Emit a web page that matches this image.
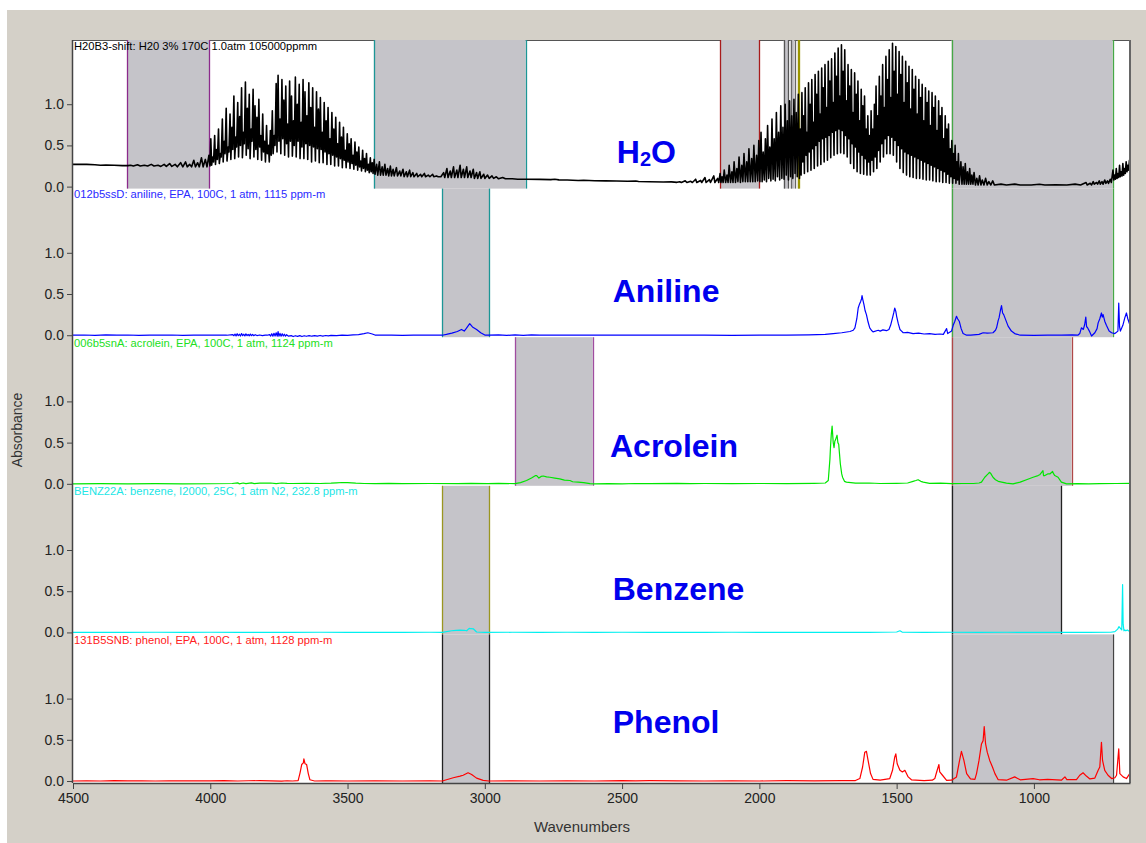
<!DOCTYPE html>
<html>
<head>
<meta charset="utf-8">
<script src="https://cdn.jsdelivr.net/npm/d3@7"></script>
<style>
  body { margin: 0; background: #fff; }
  svg { display: block; font-family: 'Liberation Sans', Arial, sans-serif; }
</style>
</head>
<body>
<div id="chart-1"></div>
<script>
// ---- data ----
var wavenumberTicks = [4500, 4000, 3500, 3000, 2500, 2000, 1500, 1000]
var absorbanceTicks = [0, 0.5, 1.0]

var compounds = ['H2O', 'Aniline', 'Acrolein', 'Benzene', 'Phenol']
var sampleNotes = [
  'H20B3-shift: H20 3% 170C 1.0atm 105000ppmm',
  '012b5ssD: aniline, EPA, 100C, 1 atm, 1115 ppm-m',
  '006b5snA: acrolein, EPA, 100C, 1 atm, 1124 ppm-m',
  'BENZ22A: benzene, I2000, 25C, 1 atm N2, 232.8 ppm-m',
  '131B5SNB: phenol, EPA, 100C, 1 atm, 1128 ppm-m'
]

// analysis windows (wavenumber from, to) for each panel
var h2oWindows = [[4302, 4003], [3404, 2851], [2143, 2001], [1911, 1895], [1886, 1872], [1860, 1856], [1300, 713]]
var anilineWindows = [[3155, 2983], [1300, 713]]
var acroleinWindows = [[2890, 2607], [1300, 863]]
var benzeneWindows = [[3155, 2983], [1300, 900]]
var phenolWindows = [[3155, 2983], [1300, 713]]

// spectra: [wavenumber, absorbance]
var h2oSpectrum = [
  [4500,0.27],[4450,0.27],[4420,0.265],[4400,0.26],[4380,0.262],[4350,0.26],[4320,0.255],[4300,0.255],
  [4290,0.26],[4280,0.25],[4265,0.265],[4255,0.25],[4240,0.26],[4228,0.25],[4215,0.27],[4205,0.25],[4190,0.26],[4180,0.245],
  [4168,0.27],[4160,0.245],[4148,0.28],[4140,0.245],[4128,0.27],[4120,0.24],[4108,0.29],[4100,0.24],[4090,0.30],[4084,0.24],
  [4075,0.27],[4068,0.24],[4060,0.32],[4054,0.24],[4046,0.29],[4040,0.24],[4032,0.35],[4026,0.24],[4018,0.33],[4012,0.24],[4005,0.38],[4001,0.25],
  [3998,0.58],[3995,0.26],[3991,0.36],[3988,0.30],[3984,0.62],[3981,0.27],[3977,0.45],[3974,0.33],[3970,0.70],[3967,0.28],
  [3963,0.40],[3960,0.36],[3956,0.82],[3953,0.30],[3949,0.55],[3946,0.40],[3942,0.95],[3939,0.31],[3935,0.48],[3932,0.42],
  [3928,0.88],[3925,0.33],[3921,0.72],[3918,0.45],[3914,1.10],[3911,0.34],[3907,0.60],[3904,0.48],[3900,1.02],[3897,0.36],
  [3893,0.85],[3890,0.50],[3886,1.20],[3883,0.35],[3879,0.66],[3876,0.52],[3872,1.27],[3869,0.38],[3865,0.95],[3862,0.46],
  [3858,1.12],[3855,0.34],[3851,0.70],[3848,0.55],[3844,1.18],[3841,0.36],[3837,0.98],[3834,0.45],[3830,0.84],[3827,0.33],
  [3823,1.06],[3820,0.48],[3816,0.62],[3813,0.32],[3809,0.88],[3806,0.42],[3802,0.55],[3799,0.30],[3795,0.74],[3792,0.40],
  [3788,0.50],[3785,0.30],[3781,0.68],[3778,0.38],[3774,0.92],[3771,0.40],[3767,0.62],[3764,0.50],[3760,1.25],[3757,0.42],
  [3753,1.35],[3750,0.55],[3746,0.82],[3743,0.40],[3739,1.30],[3736,0.58],[3732,1.05],[3729,0.38],[3725,1.22],[3722,0.52],
  [3718,0.76],[3715,0.36],[3711,1.28],[3708,0.55],[3704,1.10],[3701,0.37],[3697,0.80],[3694,0.50],[3690,1.33],[3687,0.36],
  [3683,1.00],[3680,0.55],[3676,1.24],[3673,0.34],[3669,0.78],[3666,0.48],[3662,1.30],[3659,0.34],[3655,1.15],[3652,0.52],
  [3648,0.86],[3645,0.33],[3641,1.26],[3638,0.50],[3634,0.96],[3631,0.30],[3627,1.20],[3624,0.48],[3620,0.72],[3617,0.31],
  [3613,1.15],[3610,0.46],[3606,0.94],[3603,0.29],[3599,1.08],[3596,0.45],[3592,0.66],[3589,0.29],[3585,1.02],[3582,0.42],
  [3578,0.80],[3575,0.27],[3571,0.96],[3568,0.40],[3564,0.58],[3561,0.27],[3557,0.90],[3554,0.38],[3550,0.70],[3547,0.25],
  [3543,0.84],[3540,0.36],[3536,0.52],[3533,0.25],[3529,0.78],[3526,0.34],[3522,0.60],[3519,0.23],[3515,0.72],[3512,0.32],
  [3508,0.44],[3505,0.23],[3501,0.64],[3498,0.30],[3494,0.52],[3491,0.22],[3487,0.58],[3484,0.28],[3480,0.38],[3477,0.21],
  [3473,0.54],[3470,0.26],[3466,0.42],[3463,0.20],[3459,0.48],[3456,0.24],[3452,0.31],[3449,0.19],[3445,0.44],[3442,0.22],
  [3438,0.34],[3435,0.18],[3431,0.40],[3428,0.20],[3424,0.27],[3421,0.17],[3417,0.35],[3414,0.18],[3410,0.29],[3407,0.16],
  [3403,0.33],[3400,0.15],
  [3394,0.27],[3390,0.14],[3384,0.30],[3380,0.14],[3374,0.24],[3370,0.14],[3364,0.27],[3360,0.14],[3354,0.22],[3350,0.13],
  [3344,0.25],[3340,0.13],[3334,0.21],[3330,0.13],[3322,0.23],[3318,0.13],[3310,0.19],[3306,0.13],[3298,0.21],[3294,0.12],
  [3286,0.18],[3282,0.12],[3274,0.20],[3270,0.12],[3262,0.17],[3258,0.12],[3248,0.16],[3244,0.12],[3234,0.15],[3230,0.12],
  [3220,0.16],[3216,0.12],[3206,0.14],[3200,0.12],[3190,0.15],[3186,0.12],[3176,0.13],[3170,0.12],[3160,0.12],[3150,0.17],
  [3146,0.11],[3138,0.22],[3134,0.11],[3126,0.19],[3122,0.11],[3114,0.24],[3110,0.11],[3102,0.20],[3098,0.11],[3090,0.26],
  [3086,0.11],[3078,0.21],[3074,0.11],[3066,0.24],[3062,0.11],[3054,0.19],[3050,0.11],[3042,0.21],[3038,0.10],[3030,0.17],
  [3026,0.10],[3018,0.18],[3014,0.10],[3004,0.15],[3000,0.10],[2990,0.14],[2984,0.10],[2974,0.13],[2968,0.10],[2958,0.12],
  [2950,0.095],[2935,0.11],[2925,0.095],[2900,0.095],[2880,0.09],[2850,0.09],
  [2800,0.088],[2760,0.085],[2745,0.09],[2730,0.082],[2700,0.08],[2660,0.075],[2640,0.078],[2600,0.072],[2560,0.07],
  [2520,0.068],[2480,0.066],[2450,0.068],[2440,0.062],[2400,0.06],[2350,0.056],[2320,0.058],[2300,0.052],
  [2290,0.06],[2284,0.05],[2270,0.07],[2264,0.05],[2250,0.065],[2244,0.05],[2232,0.09],[2228,0.05],[2214,0.075],[2210,0.05],
  [2198,0.11],[2194,0.05],[2182,0.085],[2178,0.05],[2166,0.13],[2162,0.05],[2152,0.10],[2148,0.05],[2143,0.16],[2140,0.05],
  [2136,0.12],[2132,0.05],[2128,0.20],[2123,0.05],[2118,0.14],[2114,0.05],[2110,0.26],[2105,0.05],[2100,0.18],[2096,0.05],
  [2092,0.30],[2087,0.05],[2082,0.22],[2078,0.06],[2074,0.36],[2069,0.05],[2064,0.26],[2060,0.06],[2056,0.40],[2051,0.06],
  [2046,0.30],[2042,0.06],[2038,0.46],[2033,0.06],[2028,0.34],[2024,0.06],[2020,0.50],[2015,0.06],[2010,0.38],[2006,0.07],
  [2002,0.56],[1998,0.06],
  [1994,0.66],[1990,0.06],[1986,0.42],[1982,0.08],[1978,0.58],[1974,0.06],[1970,0.74],[1966,0.10],[1962,0.48],[1958,0.07],
  [1954,0.82],[1950,0.09],[1946,0.58],[1942,0.07],[1938,0.90],[1934,0.12],[1930,0.66],[1926,0.08],[1922,0.98],[1918,0.10],
  [1914,0.72],[1910,0.09],[1906,1.00],[1902,0.14],[1898,0.80],[1894,0.08],[1890,1.04],[1886,0.12],[1882,0.86],[1878,0.10],
  [1874,1.06],[1870,0.16],[1866,0.90],[1862,0.12],[1858,1.12],[1854,0.10],
  [1851,0.70],[1848,0.14],[1845,1.14],[1842,0.30],[1839,0.86],[1836,0.16],[1833,1.20],[1830,0.38],[1827,0.66],[1824,0.18],
  [1821,1.26],[1818,0.42],[1815,1.00],[1812,0.20],[1809,1.30],[1806,0.46],[1803,0.78],[1800,0.22],[1797,1.36],[1794,0.50],
  [1791,1.12],[1788,0.25],[1785,1.40],[1782,0.55],[1779,0.88],[1776,0.27],[1773,1.44],[1770,0.58],[1767,1.20],[1764,0.30],
  [1761,1.48],[1758,0.60],[1755,0.96],[1752,0.32],[1749,1.52],[1746,0.62],[1743,1.28],[1740,0.35],[1737,1.55],[1734,0.66],
  [1731,1.02],[1728,0.38],[1725,1.62],[1722,0.68],[1719,1.34],[1716,0.40],[1713,1.68],[1710,0.70],[1707,1.10],[1704,0.41],
  [1701,1.72],[1698,0.68],[1695,1.40],[1692,0.40],[1689,1.66],[1686,0.62],[1683,1.04],[1680,0.36],[1677,1.48],[1674,0.58],
  [1671,1.22],[1668,0.28],[1665,1.42],[1662,0.52],[1659,0.90],[1656,0.22],[1653,1.38],[1650,0.48],[1647,1.12],[1644,0.18],
  [1641,1.28],[1638,0.42],[1635,0.80],[1632,0.16],[1629,1.18],[1626,0.38],[1623,0.98],[1620,0.15],[1617,1.10],[1614,0.34],
  [1611,0.70],[1608,0.14],[1605,0.86],[1602,0.30],[1599,0.62],[1596,0.14],[1593,0.92],[1590,0.32],[1587,0.70],[1584,0.18],
  [1581,1.00],[1578,0.36],[1575,1.22],[1572,0.22],[1569,0.86],[1566,0.44],[1563,1.34],[1560,0.30],[1557,1.10],[1554,0.52],
  [1551,1.48],[1548,0.36],[1545,0.96],[1542,0.58],[1539,1.58],[1536,0.40],[1533,1.30],[1530,0.62],[1527,1.66],[1524,0.40],
  [1521,1.08],[1518,0.60],[1515,1.74],[1512,0.38],[1509,1.40],[1506,0.56],[1503,1.70],[1500,0.30],[1497,1.12],[1494,0.50],
  [1491,1.64],[1488,0.22],[1485,1.36],[1482,0.46],[1479,1.58],[1476,0.17],[1473,1.02],[1470,0.42],[1467,1.52],[1464,0.14],
  [1461,1.26],[1458,0.40],[1455,1.46],[1452,0.12],[1449,0.94],[1446,0.38],[1443,1.42],[1440,0.11],[1437,1.18],[1434,0.36],
  [1431,1.34],[1428,0.10],[1425,0.88],[1422,0.34],[1419,1.30],[1416,0.10],[1413,1.08],[1410,0.32],[1407,1.24],[1404,0.09],
  [1401,0.80],[1398,0.30],[1395,1.20],[1392,0.08],[1389,1.02],[1386,0.28],[1383,1.16],[1380,0.08],[1377,0.74],[1374,0.26],
  [1371,1.14],[1368,0.07],[1365,0.96],[1362,0.24],[1359,1.10],[1356,0.06],[1353,0.68],[1350,0.22],[1347,1.04],[1344,0.06],
  [1341,0.86],[1338,0.20],[1335,0.96],[1332,0.05],[1329,0.58],[1326,0.18],[1323,0.86],[1320,0.05],[1317,0.70],[1314,0.15],
  [1311,0.76],[1308,0.04],[1305,0.46],[1302,0.12],[1299,0.56],[1296,0.04],[1293,0.40],[1290,0.10],[1287,0.50],[1284,0.04],
  [1281,0.30],[1278,0.08],[1275,0.40],[1272,0.03],
  [1266,0.30],[1262,0.03],[1258,0.24],[1254,0.03],[1250,0.28],[1246,0.03],[1242,0.18],[1238,0.03],[1234,0.22],[1230,0.03],
  [1226,0.14],[1222,0.03],[1218,0.17],[1213,0.02],[1208,0.10],[1203,0.02],[1198,0.13],[1193,0.02],[1188,0.08],[1182,0.02],
  [1176,0.10],[1170,0.02],[1164,0.06],[1157,0.02],[1150,0.07],[1144,0.02],
  [1120,0.03],[1100,0.02],[1070,0.03],[1050,0.02],[1010,0.02],[980,0.028],[960,0.02],[920,0.022],[880,0.02],[850,0.03],[830,0.02],
  [810,0.05],[806,0.02],[795,0.04],[790,0.02],[784,0.06],[780,0.03],[772,0.05],[768,0.03],[762,0.07],[758,0.03],[752,0.06],
  [748,0.03],[742,0.08],[738,0.04],[732,0.07],[728,0.04],[722,0.09],[718,0.05],[712,0.20],[709,0.08],[706,0.14],[703,0.09],
  [700,0.22],[697,0.10],[694,0.16],[691,0.11],[688,0.26],[685,0.12],[682,0.18],[679,0.13],[676,0.28],[673,0.14],[670,0.22],
  [667,0.16],[664,0.30],[661,0.18],[658,0.26],[655,0.20],[652,0.32],[650,0.22]
]

var anilineSpectrum = [
  [4500,0],[4460,0.003],[4420,-0.002],[4380,0.004],[4340,0],[4300,0.003],[4260,-0.002],[4220,0.002],[4180,0],[4140,0.003],
  [4100,-0.002],[4060,0.002],[4020,0],[3980,0.002],[3940,0],
  [3918,0.008],[3914,-0.006],[3910,0.014],[3906,-0.008],[3902,0.018],[3898,-0.006],[3894,0.012],[3890,-0.01],[3886,0.02],
  [3882,-0.006],[3878,0.012],[3874,-0.008],[3870,0.016],[3866,-0.006],[3862,0.01],[3858,-0.008],[3854,0.014],[3850,-0.006],
  [3846,0.01],[3842,-0.005],[3836,0.006],[3830,-0.004],[3820,0.003],[3810,-0.004],[3800,0.002],[3792,0],
  [3784,0.008],[3780,-0.01],[3776,0.018],[3772,-0.012],[3768,0.024],[3764,-0.01],[3760,0.03],[3756,-0.012],[3753,0.045],
  [3750,-0.012],[3746,0.022],[3742,-0.012],[3738,0.018],[3734,-0.01],[3730,0.012],[3726,-0.012],[3722,0.006],
  [3715,-0.012],[3705,-0.005],[3698,-0.016],[3690,-0.006],[3682,-0.014],[3674,-0.005],[3666,-0.016],[3658,-0.006],[3650,-0.013],
  [3640,-0.004],[3630,-0.012],[3620,-0.005],[3610,-0.011],[3600,-0.003],[3590,-0.01],[3580,-0.003],[3570,-0.008],[3560,-0.002],
  [3540,-0.004],[3520,0.002],[3500,-0.002],[3480,0.004],[3460,0.008],[3440,0.02],[3426,0.03],[3410,0.015],[3400,0.002],
  [3380,0],[3340,0.002],[3300,-0.001],[3260,0.002],[3220,0],[3180,0.003],[3155,0],
  [3140,0.01],[3120,0.025],[3100,0.045],[3085,0.07],[3075,0.05],[3068,0.08],[3055,0.14],[3045,0.1],[3030,0.07],[3015,0.03],
  [3000,0.002],[2985,0],
  [2950,0.004],[2920,-0.002],[2890,0.005],[2860,-0.003],[2830,0.004],[2800,0],[2760,0.002],[2700,0],[2600,0.002],[2500,0],
  [2400,0.002],[2300,0],[2200,0.001],[2100,-0.002],[2000,0.002],[1900,0],[1820,0.004],[1760,0.01],[1731,0.02],[1700,0.03],
  [1670,0.045],[1658,0.06],[1652,0.09],[1645,0.2],[1640,0.33],[1635,0.38],[1631,0.41],[1628,0.44],[1626,0.48],[1623,0.43],
  [1619,0.37],[1615,0.3],[1610,0.25],[1604,0.16],[1598,0.09],[1592,0.06],[1586,0.04],
  [1567,0.06],[1560,0.05],[1550,0.065],[1537,0.055],[1528,0.07],[1522,0.12],[1515,0.21],[1510,0.28],[1507,0.33],[1503,0.29],
  [1500,0.23],[1494,0.14],[1488,0.07],[1482,0.05],[1476,0.03],[1460,0.035],[1440,0.02],[1420,0.025],[1400,0.015],[1380,0.02],
  [1360,0.01],[1343,0.015],[1330,0.01],[1318,0.08],[1314,0.02],
  [1300,0.05],[1294,0.12],[1288,0.17],[1282,0.23],[1278,0.2],[1272,0.17],[1265,0.08],[1258,0.02],[1245,0],[1230,0.002],
  [1200,0.01],[1185,0.03],[1170,0.025],[1149,0.03],[1140,0.06],[1136,0.09],[1130,0.18],[1127,0.21],[1122,0.3],[1118,0.36],
  [1114,0.27],[1110,0.25],[1102,0.18],[1094,0.11],[1082,0.05],[1070,0.02],[1050,0],[1000,-0.002],[950,0.002],[900,0],
  [860,0.004],[840,0],
  [833,0.02],[827,0.09],[820,0.07],[815,0.13],[811,0.22],[808,0.1],[806,0.1],[798,0.05],[790,-0.01],[778,0.03],[770,0.08],
  [766,0.15],[760,0.2],[754,0.27],[751,0.22],[748,0.25],[742,0.17],[736,0.12],[726,0.05],[717,0.03],[705,0.02],
  [694,0.05],[691,0.39],[688,0.1],[685,0.05],[676,0.12],[669,0.21],[663,0.27],[658,0.2],[651,0.13]
]

var acroleinSpectrum = [
  [4500,0],[4400,0.002],[4300,0],[4200,0.002],[4100,0],[4000,0.001],[3920,0.004],[3900,0.012],[3895,0],[3880,0.01],
  [3870,0.002],[3850,0.012],[3840,0.003],[3820,0.008],[3780,0.01],[3760,0.002],[3740,0.01],[3720,0.006],[3700,0.004],
  [3650,0.006],[3600,0.004],[3560,0.008],[3540,0.012],[3520,0.016],[3500,0.015],[3470,0.008],[3440,0.004],[3400,0.003],
  [3350,0.005],[3300,0.002],[3200,0.004],[3100,0.002],[3050,0.005],[2990,0.003],[2950,0.006],[2890,0.002],
  [2870,0.015],[2848,0.04],[2830,0.07],[2815,0.1],[2811,0.1],[2803,0.07],[2795,0.09],[2787,0.095],[2775,0.085],[2763,0.08],
  [2745,0.07],[2727,0.06],[2710,0.045],[2690,0.04],[2680,0.025],[2660,0.02],[2640,0.015],[2617,0.002],[2600,0],
  [2550,0.003],[2500,0],[2450,0.004],[2400,0.002],[2300,0.006],[2250,0.002],[2200,0.004],[2100,0.002],[2000,0.004],
  [1900,0.002],[1800,0.006],[1760,0.01],[1749,0.04],[1743,0.3],[1741,0.44],[1738,0.6],[1735,0.7],[1731,0.5],[1728,0.44],
  [1725,0.52],[1723,0.53],[1720,0.56],[1717,0.59],[1714,0.5],[1711,0.48],[1708,0.36],[1705,0.24],[1700,0.12],[1697,0.08],
  [1690,0.03],[1683,0.02],[1650,0.008],[1600,0.01],[1560,0.004],[1500,0.006],[1460,0.01],[1440,0.03],[1430,0.04],
  [1422,0.05],[1412,0.03],[1403,0.02],[1380,0.006],[1340,0.008],[1300,0.002],[1260,0.004],[1220,0.004],[1200,0.01],
  [1191,0.02],[1179,0.08],[1167,0.12],[1162,0.14],[1158,0.13],[1149,0.08],[1140,0.05],[1130,0.03],[1100,0.008],[1076,0],
  [1050,0.02],[1027,0.05],[1003,0.08],[985,0.1],[979,0.11],[967,0.16],[965,0.1],[960,0.1],[950,0.12],[942,0.12],[932,0.15],
  [928,0.12],[924,0.1],[912,0.08],[900,0.02],[881,0],[840,0.002],[800,0],[760,0.002],[700,0.004],[650,0.006]
]

var benzeneSpectrum = [
  [4500,0],[4400,0.001],[4300,0],[4200,0.002],[4100,0],[4000,0.002],[3900,0],[3800,0.001],[3700,0],[3600,0.002],[3500,0],
  [3400,0.001],[3300,0],[3200,0.002],[3155,0],[3121,0.02],[3105,0.025],[3091,0.028],[3075,0.026],[3066,0.02],[3057,0.05],
  [3050,0.045],[3042,0.044],[3030,0.005],[3000,0],[2900,0.002],[2800,0],[2700,0.002],[2600,0],[2500,0.002],[2400,0],
  [2300,0.001],[2200,0],[2100,0.002],[2000,0],[1900,0.001],[1800,0],[1700,0.001],[1600,0],[1500,0.005],[1488,0.02],
  [1480,0.004],[1400,0],[1300,0.002],[1200,0],[1100,0.002],[1000,0],[900,0.001],[800,0],[720,0.002],[705,0.01],[695,0.04],
  [690,0.07],[685,0.05],[680,0.03],[677,0.58],[675,0.1],[672,0.02],[669,0.03],[665,0.02],[660,0.03],[651,0.01]
]

var phenolSpectrum = [
  [4500,0],[4450,0.002],[4400,0],[4350,0.004],[4300,0.001],[4250,0.003],[4200,0],[4150,0.003],[4100,0.001],[4050,0.002],
  [4000,0.002],[3950,0.004],[3900,0],[3860,0.003],[3820,0.004],[3780,0.002],[3740,-0.002],[3720,0.003],[3700,0],[3680,0.004],
  [3673,0.1],[3667,0.2],[3661,0.22],[3659,0.27],[3655,0.21],[3649,0.2],[3643,0.09],[3637,0.015],[3620,0],[3580,0.002],
  [3560,0.003],[3500,0],[3400,0.002],[3300,0],[3200,0.002],[3155,0],[3115,0.04],[3090,0.06],[3079,0.07],[3070,0.085],
  [3061,0.1],[3048,0.08],[3030,0.035],[3006,0.008],[2985,0],[2900,0.002],[2800,0],[2700,0.002],[2600,0],[2500,0.004],
  [2450,0.002],[2400,0.004],[2300,0.002],[2200,0],[2100,0.003],[2000,0],[1900,0.004],[1800,0.002],[1700,0.004],[1650,0.006],
  [1634,0.03],[1624,0.17],[1616,0.35],[1610,0.36],[1604,0.25],[1595,0.09],[1586,0.02],[1560,0.01],[1525,0.03],[1515,0.13],
  [1510,0.23],[1507,0.29],[1503,0.33],[1498,0.21],[1488,0.13],[1479,0.11],[1470,0.13],[1458,0.05],[1446,0.015],[1400,0.006],
  [1370,0.01],[1361,0.03],[1355,0.1],[1346,0.2],[1343,0.11],[1333,0.07],[1318,0.008],[1300,0.01],[1282,0.05],[1272,0.23],
  [1264,0.36],[1255,0.25],[1245,0.09],[1231,0.025],[1215,0.02],[1209,0.09],[1200,0.25],[1191,0.45],[1185,0.49],[1181,0.66],
  [1176,0.45],[1170,0.35],[1161,0.25],[1151,0.17],[1142,0.09],[1130,0.016],[1100,0.01],[1070,0.05],[1050,0.015],[1003,0.03],
  [980,0.015],[950,0.02],[900,0.01],[887,0.05],[880,0.016],[845,0.016],[833,0.07],[821,0.1],[809,0.06],[796,0.025],
  [778,0.036],[766,0.13],[760,0.17],[754,0.47],[750,0.25],[742,0.13],[730,0.07],[717,0.03],[705,0.04],[699,0.07],[691,0.39],
  [687,0.09],[675,0.05],[663,0.03],[651,0.09]
]

// ---- styles ----
var lineColors = ['#000000', '#0000ff', '#00e600', '#00f0f0', '#ff0000']
var lineWidths = [1.6, 1.2, 1.2, 1.2, 1.2]
var noteColors = ['#000000', '#2a2aff', '#22e022', '#22e6e6', '#ff2020']
var edgeColors = [
  ['#8b2a8b', '#1c9696', '#a81c1c', '#555555', '#666666', '#9a9600', '#46a846'],
  ['#1c9696', '#46a846'],
  ['#a04ca0', '#b04848'],
  ['#9a9620', '#222222'],
  ['#222222', '#444444']
]
// where each big compound name sits: [wavenumber, absorbance]
var nameAnchors = [[2519, 0.29], [2534, 0.40], [2544, 0.33], [2534, 0.39], [2534, 0.58]]

var spectra = [h2oSpectrum, anilineSpectrum, acroleinSpectrum, benzeneSpectrum, phenolSpectrum]
var windowSets = [h2oWindows, anilineWindows, acroleinWindows, benzeneWindows, phenolWindows]

// ---- layout ----
var margin = { top: 40, left: 73, right: 16, bottom: 60 }
var width = 1146 - margin.left - margin.right
var height = 843 - margin.top - margin.bottom
var panelHeight = height / compounds.length

var svg = d3
  .select('#chart-1')
  .append('svg')
  .attr('width', 1146)
  .attr('height', 843)

// grey window background
svg
  .append('rect')
  .attr('x', 7)
  .attr('y', 10)
  .attr('width', 1139)
  .attr('height', 833)
  .attr('fill', '#d4d0c8')

var container = svg
  .append('g')
  .attr('transform', 'translate(' + margin.left + ',' + margin.top + ')')

container
  .append('rect')
  .attr('width', width)
  .attr('height', height)
  .attr('fill', '#ffffff')

// top border (shading covers it)
container
  .append('line')
  .attr('x1', 0)
  .attr('x2', width)
  .attr('y1', 0.5)
  .attr('y2', 0.5)
  .attr('stroke', '#555')

var xPositionScale = d3
  .scaleLinear()
  .domain([4500, 650])
  .range([0, width])

var yPositionScale = d3
  .scaleLinear()
  .domain([-0.024, 1.779])
  .range([panelHeight, 0])

var line = d3
  .line()
  .x(function(d) {
    return xPositionScale(d[0])
  })
  .y(function(d) {
    return yPositionScale(d[1])
  })

compounds.forEach(function(name, i) {
  var panel = container
    .append('g')
    .attr('transform', 'translate(0,' + i * panelHeight + ')')

  var windows = windowSets[i]

  panel
    .selectAll('.window')
    .data(windows)
    .enter()
    .append('rect')
    .attr('class', 'window')
    .attr('x', function(d) {
      return xPositionScale(d[0])
    })
    .attr('width', function(d) {
      return xPositionScale(d[1]) - xPositionScale(d[0])
    })
    .attr('y', 0)
    .attr('height', panelHeight)
    .attr('fill', '#c5c4c9')

  var edges = []
  windows.forEach(function(w, j) {
    edges.push({ wn: w[0], color: edgeColors[i][j] })
    edges.push({ wn: w[1], color: edgeColors[i][j] })
  })

  panel
    .selectAll('.edge')
    .data(edges)
    .enter()
    .append('line')
    .attr('class', 'edge')
    .attr('x1', function(d) {
      return Math.round(xPositionScale(d.wn)) + 0.5
    })
    .attr('x2', function(d) {
      return Math.round(xPositionScale(d.wn)) + 0.5
    })
    .attr('y1', 0)
    .attr('y2', panelHeight)
    .attr('stroke', function(d) {
      return d.color
    })
    .attr('stroke-width', 1.3)

  panel
    .append('path')
    .datum(spectra[i])
    .attr('d', line)
    .attr('fill', 'none')
    .attr('stroke', lineColors[i])
    .attr('stroke-width', lineWidths[i])
    .attr('stroke-linejoin', 'round')

  var yAxis = d3
    .axisLeft(yPositionScale)
    .tickValues(absorbanceTicks)
    .tickFormat(d3.format('.1f'))
    .tickSize(6)
    .tickPadding(3)

  var axisG = panel
    .append('g')
    .attr('class', 'axis y-axis')
    .call(yAxis)
  axisG.select('.domain').remove()
  axisG.selectAll('line').attr('stroke', '#444')
  axisG
    .selectAll('text')
    .attr('font-size', 14)
    .attr('font-family', "'Liberation Sans', Arial, sans-serif")
    .attr('fill', '#222')

  panel
    .append('text')
    .attr('x', 1)
    .attr('y', 9.5)
    .attr('font-size', 11.2)
    .attr('fill', noteColors[i])
    .text(sampleNotes[i])

  // compound name, digits as subscripts
  var label = panel
    .append('text')
    .attr('x', xPositionScale(nameAnchors[i][0]))
    .attr('y', yPositionScale(nameAnchors[i][1]))
    .attr('font-size', 32)
    .attr('font-weight', 'bold')
    .attr('fill', '#0000ee')

  var parts = name.match(/\d+|\D+/g)
  var shifted = false
  parts.forEach(function(part) {
    var isDigit = /\d/.test(part)
    var span = label.append('tspan').text(part)
    if (isDigit) {
      span.attr('font-size', 20).attr('dy', 3)
      shifted = true
    } else if (shifted) {
      span.attr('dy', -3)
      shifted = false
    }
  })
})

// left axis line and right border
container
  .append('line')
  .attr('x1', -0.5)
  .attr('x2', -0.5)
  .attr('y1', 0)
  .attr('y2', height)
  .attr('stroke', '#444')
  .attr('stroke-width', 1.5)

container
  .append('line')
  .attr('x1', width)
  .attr('x2', width)
  .attr('y1', 0)
  .attr('y2', height)
  .attr('stroke', '#666')
  .attr('stroke-width', 2)

var xAxis = d3
  .axisBottom(xPositionScale)
  .tickValues(wavenumberTicks)
  .tickFormat(d3.format('d'))
  .tickSize(6)
  .tickSizeOuter(0)
  .tickPadding(4)

var xAxisG = container
  .append('g')
  .attr('class', 'axis x-axis')
  .attr('transform', 'translate(0,' + height + ')')
  .call(xAxis)
xAxisG.select('.domain').attr('stroke', '#444').attr('stroke-width', 1.5)
xAxisG.selectAll('line').attr('stroke', '#444')
xAxisG
  .selectAll('text')
  .attr('font-size', 14)
  .attr('font-family', "'Liberation Sans', Arial, sans-serif")
  .attr('fill', '#222')

svg
  .append('text')
  .attr('x', 582)
  .attr('y', 832)
  .attr('text-anchor', 'middle')
  .attr('font-size', 15)
  .attr('fill', '#333')
  .text('Wavenumbers')

svg
  .append('text')
  .attr('transform', 'translate(22,430) rotate(-90)')
  .attr('text-anchor', 'middle')
  .attr('font-size', 14)
  .attr('fill', '#333')
  .text('Absorbance')
</script>
</body>
</html>
